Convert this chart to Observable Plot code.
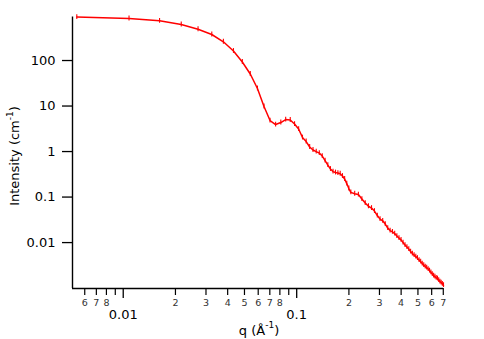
<!DOCTYPE html>
<html>
<head>
<meta charset="utf-8">
<script src="https://cdn.jsdelivr.net/npm/d3@7"></script>
<script src="https://cdn.jsdelivr.net/npm/@observablehq/plot@0.6"></script>
<style>
  html, body { margin: 0; padding: 0; background: #fff; }
  #chart svg { display: block; }
</style>
</head>
<body>
<div id="chart"></div>
<script>
// Scattering vector q (1/Å)
const q = [0.0054,0.0108,0.0162,0.0216,0.027,0.0324,0.0378,0.0432,0.0486,0.054,
  0.0594,0.0648,0.0702,0.0756,0.081,0.0864,0.0918,0.0972,0.1026,0.108,
  0.1134,0.1188,0.1242,0.1296,0.135,0.1404,0.1458,0.1512,0.1566,0.162,
  0.1674,0.1728,0.1782,0.1836,0.189,0.1944,0.1998,
  0.2052,0.216,0.2268,0.2376,0.2484,0.2592,0.27,0.2808,0.2916,0.3024,
  0.3132,0.324,0.3348,0.3456,0.3564,0.3672,0.378,0.3888,0.3996,0.4104,
  0.4212,0.432,0.4428,0.4536,0.4644,0.4752,0.486,0.4968,0.5076,0.5184,
  0.5292,0.54,0.5508,0.5616,0.5724,0.5832,0.594,0.6048,0.6156,0.6264,
  0.6372,0.648,0.6588,0.6696,0.6804,0.6912,0.702];
// Intensity (1/cm)
const intensity = [900,838,746,618,487,373,258,162,92.7,50.5,
  24.3,9.75,4.8,3.92,4.34,5.05,4.93,4.02,3.12,2.03,
  1.66,1.26,1.08,1.0,0.927,0.796,0.634,0.505,0.413,0.363,
  0.346,0.337,0.326,0.290,0.249,0.198,0.154,
  0.1269,0.1181,0.1135,0.0904,0.0738,0.0628,0.0573,0.0492,0.0392,0.0328,
  0.0301,0.0255,0.0208,0.01835,0.01718,0.01577,0.0139,0.01256,0.01147,0.0100,
  0.00881,0.00796,0.0072,0.00634,0.00573,0.00531,0.00492,0.00456,0.00412,0.00382,
  0.00346,0.0032,0.00297,0.00282,0.00262,0.00242,0.00222,0.00203,0.00188,0.00179,
  0.00168,0.00162,0.0015,0.00139,0.00132,0.00124,0.00116];
// estimated relative uncertainty of each point
const relErr = 0.13;

const xDomain = [0.0051, 0.702];
const yDomain = [0.00098, 904];

const yTicks = [0.01, 0.1, 1, 10, 100];
const yTickLabels = ["0.01", "0.1", "1", "10", "100"];
const xMajorTicks = [0.01, 0.1];
const xMajorLabels = ["0.01", "0.1"];
const xMinorTicks = [0.006,0.007,0.008,0.009,0.02,0.03,0.04,0.05,0.06,0.07,0.08,0.09,0.2,0.3,0.4,0.5,0.6,0.7];
const xMinorLabels = ["6","7","8","","2","3","4","5","6","7","8","","2","3","4","5","6","7"];

const data = q.map((v, i) => ({q: v, I: intensity[i]}));
const minor = xMinorTicks.map((v, i) => ({v, label: xMinorLabels[i]}));
const major = xMajorTicks.map((v, i) => ({v, label: xMajorLabels[i]}));
const red = "#f00";
const font = "'DejaVu Sans', sans-serif";

const chart = Plot.plot({
  width: 484,
  height: 339,
  marginLeft: 72,
  marginRight: 41,
  marginTop: 16.5,
  marginBottom: 51,
  style: {fontFamily: font, background: "white", color: "black", overflow: "visible"},
  x: {type: "log", domain: xDomain},
  y: {type: "log", domain: yDomain},
  marks: [
    Plot.ruleX(data, {x: "q", y1: d => d.I / (1 + relErr), y2: d => d.I * (1 + relErr), stroke: red, strokeWidth: 1.1}),
    Plot.line(data, {x: "q", y: "I", stroke: red, strokeWidth: 1.5}),
    Plot.ruleX([xDomain[0]], {stroke: "black", strokeWidth: 1.4}),
    Plot.ruleY([yDomain[0]], {stroke: "black", strokeWidth: 1.4}),
    Plot.axisY({ticks: yTicks, tickSize: 10, tickPadding: 7, fontSize: 13, label: null,
      tickFormat: d => yTickLabels[yTicks.indexOf(d)], strokeWidth: 1.3}),
    Plot.axisX({ticks: xMajorTicks, tickSize: 10, tickFormat: () => "", label: null, strokeWidth: 1.3}),
    Plot.axisX({ticks: xMinorTicks, tickSize: 7, tickFormat: () => "", label: null, strokeWidth: 1.2}),
    Plot.text(major, {x: "v", text: "label", frameAnchor: "bottom", dy: 26, lineAnchor: "middle",
      fontSize: 13, fill: "black"}),
    Plot.text(minor, {x: "v", text: "label", frameAnchor: "bottom", dy: 14, lineAnchor: "middle",
      fontSize: 9.5, fill: "#333"})
  ]
});

document.getElementById("chart").appendChild(chart);

const svg = d3.select(chart);
const yt = svg.append("text")
  .attr("transform", "translate(19,156) rotate(-90)")
  .attr("text-anchor", "middle")
  .attr("font-family", font)
  .attr("font-size", 13)
  .attr("fill", "black");
yt.append("tspan").text("Intensity (cm");
yt.append("tspan").attr("font-size", 9).attr("dy", -6).text("-1");
yt.append("tspan").attr("dy", 6).text(")");

const xt = svg.append("text")
  .attr("x", 259).attr("y", 335)
  .attr("text-anchor", "middle")
  .attr("font-family", font)
  .attr("font-size", 13)
  .attr("fill", "black");
xt.append("tspan").text("q (Å");
xt.append("tspan").attr("font-size", 9).attr("dy", -7).text("-1");
xt.append("tspan").attr("dy", 7).text(")");
</script>
</body>
</html>
